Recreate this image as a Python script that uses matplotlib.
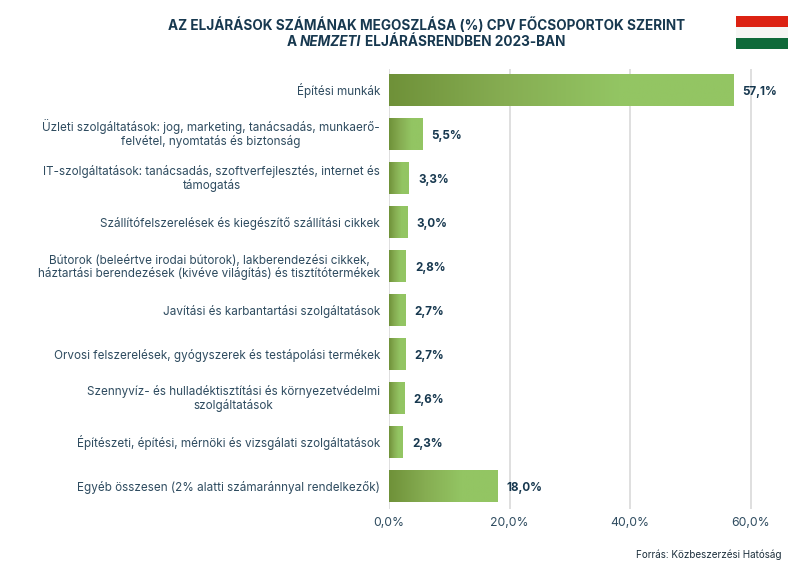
import numpy as np
import matplotlib
matplotlib.use('Agg')
import matplotlib.pyplot as plt
from matplotlib.colors import LinearSegmentedColormap
from matplotlib.patches import Rectangle
from matplotlib.transforms import ScaledTranslation

categories = [
    'Építési munkák',
    'Üzleti szolgáltatások: jog, marketing, tanácsadás, munkaerő-\nfelvétel, nyomtatás és biztonság',
    'IT-szolgáltatások: tanácsadás, szoftverfejlesztés, internet és\ntámogatás',
    'Szállítófelszerelések és kiegészítő szállítási cikkek',
    'Bútorok (beleértve irodai bútorok), lakberendezési cikkek,\nháztartási berendezések (kivéve világítás) és tisztítótermékek',
    'Javítási és karbantartási szolgáltatások',
    'Orvosi felszerelések, gyógyszerek és testápolási termékek',
    'Szennyvíz- és hulladéktisztítási és környezetvédelmi\nszolgáltatások',
    'Építészeti, építési, mérnöki és vizsgálati szolgáltatások',
    'Egyéb összesen (2% alatti számaránnyal rendelkezők)',
]
values = [57.1, 5.5, 3.3, 3.0, 2.8, 2.7, 2.7, 2.6, 2.3, 18.0]
xticks = [0, 20, 40, 60]

plt.rcParams['font.family'] = ['Inter', 'DejaVu Sans']
dark = '#17384f'
text_col = '#2f4c60'

fig = plt.figure(figsize=(8, 5.69), dpi=100)
ax = fig.add_axes([389 / 800, 1 - 508.5 / 569, 401 / 800, 440 / 569])

# gradiens a sávokhoz
cmap = LinearSegmentedColormap.from_list('bar', ['#6f9139', '#86ad52', '#93c563', '#93c563'])
grad = np.linspace(0, 1, 256).reshape(1, -1)
for i, v in enumerate(values):
    ax.imshow(grad, extent=(0, v, i + 0.358, i - 0.358), aspect='auto', cmap=cmap, zorder=3)
    ax.annotate(f'{v:.1f}%'.replace('.', ','), (v, i), xytext=(6.6, -2.9), textcoords='offset points',
                va='baseline', ha='left', fontsize=8.4, fontweight='bold', color=dark, zorder=4)

ax.set_xlim(0, 401 / 6.03)
ax.set_ylim(9.5, -0.5)
ax.set_xticks(xticks)
ax.set_xticklabels([f'{t:.1f}%'.replace('.', ',') for t in xticks], fontsize=8.8, color=text_col)
ax.set_yticks(range(len(categories)))
ax.set_yticklabels(categories, fontsize=8.43, color=text_col, linespacing=1.05, multialignment='center')
ax.tick_params(axis='both', length=0)
ax.tick_params(axis='x', pad=6.4)
ax.tick_params(axis='y', pad=6.5)
ax.grid(True, axis='x', color='#d9d9d9', linewidth=1.2, zorder=0)
ax.set_axisbelow(True)
for s in ax.spines.values():
    s.set_visible(False)

# ékezetek miatt alapvonalra igazítás
for lab in ax.get_yticklabels():
    dy = -10.5 if '\n' in lab.get_text() else -4
    lab.set_va('baseline')
    lab.set_transform(lab.get_transform() + ScaledTranslation(0, dy / 100, fig.dpi_scale_trans))

# cím
title_size = 9.75
fig.text(426.5 / 800, 1 - 30 / 569, 'AZ ELJÁRÁSOK SZÁMÁNAK MEGOSZLÁSA (%) CPV FŐCSOPORTOK SZERINT',
         ha='center', va='baseline', fontsize=title_size, fontweight='bold', color=dark)
fig.text(287 / 800, 1 - 45.6 / 569, 'A', ha='left', va='baseline', fontsize=title_size, fontweight='bold', color=dark)
fig.text(300 / 800, 1 - 45.6 / 569, 'NEMZETI', ha='left', va='baseline', fontsize=title_size, fontweight='bold',
         style='italic', color=dark)
fig.text(365 / 800, 1 - 45.6 / 569, 'ELJÁRÁSRENDBEN 2023-BAN', ha='left', va='baseline', fontsize=title_size,
         fontweight='bold', color=dark)

# zászló
for top, h, col in [(16, 11, '#dc2212'), (27, 11, '#f6f6f4'), (38, 10.5, '#0f6a3a')]:
    fig.add_artist(Rectangle((736 / 800, 1 - (top + h) / 569), 52 / 800, h / 569,
                             transform=fig.transFigure, color=col, linewidth=0))

fig.text(782 / 800, 1 - 557.5 / 569, 'Forrás: Közbeszerzési Hatóság', ha='right', va='baseline',
         fontsize=7.15, color='#1c2f3c')

fig.savefig('out.png', dpi=100)
